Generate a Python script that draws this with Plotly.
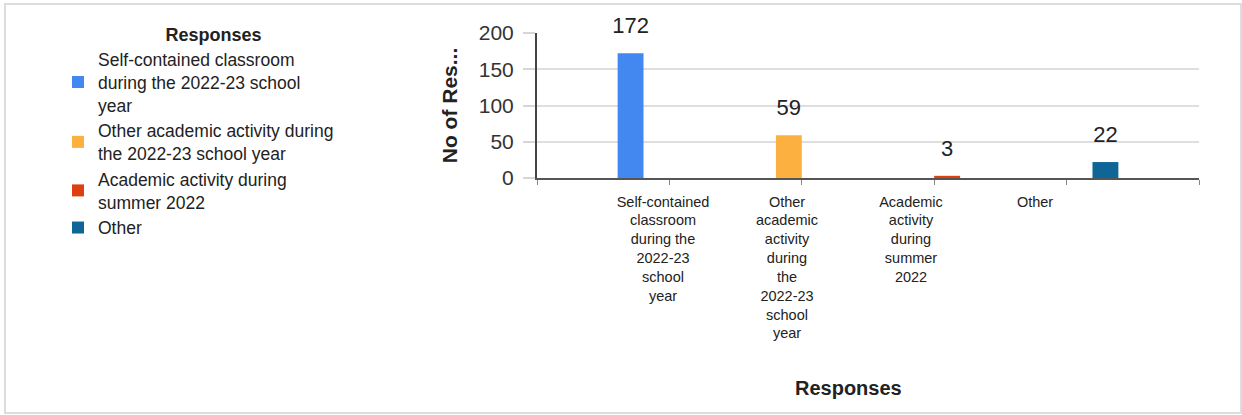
import plotly.graph_objects as go

# ---------------- data ----------------
categories = [
    "Self-contained classroom during the 2022-23 school year",
    "Other academic activity during the 2022-23 school year",
    "Academic activity during summer 2022",
    "Other",
]
values = [172, 59, 3, 22]
legend_labels = [
    "Self-contained classroom<br>during the 2022-23 school<br>year",
    "Other academic activity during<br>the 2022-23 school year",
    "Academic activity during<br>summer 2022",
    "Other",
]
tick_labels = [
    "Self-contained<br>classroom<br>during the<br>2022-23<br>school<br>year",
    "Other<br>academic<br>activity<br>during<br>the<br>2022-23<br>school<br>year",
    "Academic<br>activity<br>during<br>summer<br>2022",
    "Other",
]
y_ticks = [0, 50, 100, 150, 200]
colors = ["#4387f0", "#fbb03f", "#dc4010", "#0f6696"]

# ---------------- layout constants ----------------
W, H = 1242, 415
L, R, T, B = 537, 43, 33, 237
PW, PH = W - L - R, H - T - B


def px(x):
    return (x - L) / PW


def py(y):
    return (H - B - y) / PH


FONT = "Liberation Sans, Arial, sans-serif"
positions = list(range(len(categories)))

fig = go.Figure()

# one series per response; each series only has a value at its own category
for i, v in enumerate(values):
    ys = [v if j == i else None for j in positions]
    fig.add_trace(go.Bar(
        x=positions, y=ys, name=legend_labels[i],
        marker=dict(color=colors[i], line=dict(width=0)),
        hovertext=categories, hoverinfo="text+y",
    ))

# value labels, grouped like the bars (series value is 0 at other categories)
for i, v in enumerate(values):
    ys = [v if j == i else 0 for j in positions]
    txt = [str(v) if j == i else "" for j in positions]
    fig.add_trace(go.Scatter(
        x=positions, y=ys, mode="markers+text", text=txt,
        textposition="top center",
        marker=dict(size=22, opacity=0),
        textfont=dict(family=FONT, size=22, color="#222"),
        showlegend=False, hoverinfo="skip", cliponaxis=False,
    ))

# carrier for the category label axis
fig.add_trace(go.Scatter(
    x=positions, y=[None] * len(positions), xaxis="x2", mode="markers",
    showlegend=False, hoverinfo="skip",
))

fig.update_layout(
    width=W, height=H,
    margin=dict(l=L, r=R, t=T, b=B, pad=0),
    paper_bgcolor="white", plot_bgcolor="white",
    barmode="group", bargap=0.218, bargroupgap=0,
    scattermode="group", scattergap=0.218,
    font=dict(family=FONT, color="#222"),
    showlegend=True,
    legend=dict(
        x=px(58), y=py(18), xanchor="left", yanchor="top",
        xref="paper", yref="paper", maxheight=380,
        title=dict(text="&nbsp;" * 6 + "<b>Responses</b>", side="top center",
                   font=dict(family=FONT, size=18, color="#222")),
        font=dict(family=FONT, size=17.5, color="#222"),
        bgcolor="rgba(0,0,0,0)", tracegroupgap=0,
        valign="middle",
    ),
    xaxis=dict(
        range=[-1, 4], tickmode="array", tickvals=[-1, 0, 1, 2, 3, 4],
        ticktext=[""] * 6, ticks="outside", ticklen=5, tickwidth=1,
        tickcolor="#888", showline=True, linecolor="#555", linewidth=2,
        showgrid=False, zeroline=False, fixedrange=True,
    ),
    xaxis2=dict(
        overlaying="x", anchor="y", side="bottom",
        range=[-(663 - 537) / 124, -(663 - 537) / 124 + PW / 124],
        tickmode="array", tickvals=positions,
        ticktext=tick_labels, ticks="", showline=False, showgrid=False,
        zeroline=False, tickfont=dict(family=FONT, size=14.5, color="#222"),
        ticklabelstandoff=13,
    ),
    yaxis=dict(
        range=[0, 200], tickmode="array", tickvals=y_ticks,
        ticks="outside", ticklen=12, tickwidth=1.5, tickcolor="#d6d6d6",
        showgrid=True, gridcolor="#dedede", gridwidth=1.5,
        showline=True, linecolor="#444", linewidth=2, zeroline=False,
        tickfont=dict(family=FONT, size=21, color="#333"),
        ticklabelstandoff=5,
        title=dict(text="<b>No of Res...</b>", standoff=15,
                   font=dict(family=FONT, size=21, color="#222")),
    ),
    annotations=[dict(
        text="<b>Responses</b>", xref="paper", yref="paper",
        x=px(848), y=py(388), xanchor="center", yanchor="middle",
        showarrow=False, font=dict(family=FONT, size=20, color="#222"),
    )],
    shapes=[dict(
        type="rect", xref="paper", yref="paper",
        x0=px(5), x1=px(1241), y0=py(413), y1=py(4),
        line=dict(color="#dddddd", width=2), layer="below",
    )],
)

fig.write_html("out.html")
